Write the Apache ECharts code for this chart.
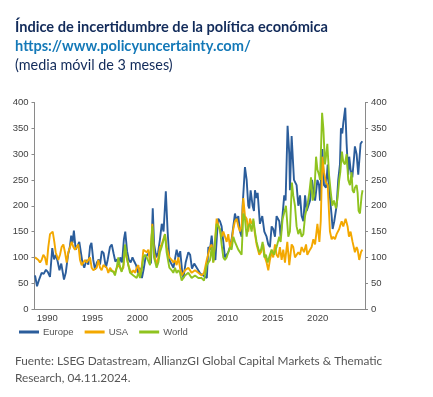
<!DOCTYPE html>
<html style="height: 100%" lang="es">
<head>
    <meta charset="utf-8">
    <script type="text/javascript" src="https://cdn.jsdelivr.net/npm/echarts@6/dist/echarts.min.js"></script>
</head>
<body style="height: 100%; margin: 0; background: #fff">
<div id="container" style="width: 433px; height: 397px"></div>
<script type="text/javascript">
    // series: [decimal year, index value], 3-month moving average
    var europe = [
        [1988.64, 65], [1988.86, 44], [1989.05, 55], [1989.37, 70], [1989.6, 68], [1989.85, 76],
        [1990.05, 72], [1990.3, 62], [1990.55, 118], [1990.75, 96], [1990.95, 105], [1991.15, 92],
        [1991.35, 75], [1991.55, 88], [1991.85, 57], [1992.05, 70], [1992.3, 105], [1992.5, 120],
        [1992.65, 142], [1992.8, 128], [1992.95, 152], [1993.15, 115], [1993.35, 112], [1993.55, 130],
        [1993.7, 128], [1993.9, 90], [1994.1, 80], [1994.35, 95], [1994.55, 86], [1994.75, 122],
        [1994.9, 128], [1995.1, 95], [1995.3, 76], [1995.5, 90], [1995.7, 96], [1995.85, 86],
        [1996.05, 112], [1996.25, 108], [1996.5, 80], [1996.7, 95], [1996.95, 120], [1997.15, 125],
        [1997.35, 108], [1997.55, 92], [1997.75, 96], [1997.95, 86], [1998.1, 100], [1998.3, 90],
        [1998.5, 135], [1998.65, 150], [1998.85, 112], [1999.05, 95], [1999.25, 90], [1999.45, 100],
        [1999.65, 92], [1999.85, 85], [2000.05, 70], [2000.25, 80], [2000.5, 60], [2000.7, 78],
        [2000.9, 100], [2001.1, 105], [2001.3, 110], [2001.5, 88], [2001.7, 195], [2001.85, 125],
        [2002.1, 100], [2002.3, 110], [2002.5, 135], [2002.7, 165], [2002.9, 150], [2003.15, 228],
        [2003.35, 150], [2003.55, 95], [2003.75, 88], [2004.0, 80], [2004.2, 78], [2004.35, 115],
        [2004.55, 100], [2004.75, 112], [2004.95, 75], [2005.1, 60], [2005.35, 90], [2005.65, 110],
        [2005.85, 105], [2006.05, 78], [2006.3, 88], [2006.5, 85], [2006.75, 75], [2007.0, 68],
        [2007.3, 65], [2007.5, 62], [2007.7, 60], [2007.87, 120], [2008.05, 115], [2008.24, 142],
        [2008.45, 100], [2008.65, 95], [2008.85, 150], [2008.97, 175], [2009.16, 170], [2009.34, 160],
        [2009.53, 130], [2009.71, 100], [2010.08, 110], [2010.27, 120], [2010.45, 135], [2010.64, 160],
        [2010.82, 185], [2011.01, 170], [2011.19, 180], [2011.38, 150], [2011.56, 140], [2011.67, 200],
        [2011.93, 275], [2012.12, 250], [2012.3, 200], [2012.41, 195], [2012.56, 230], [2012.78, 200],
        [2012.93, 190], [2013.04, 230], [2013.22, 215], [2013.34, 225], [2013.59, 165], [2013.85, 180],
        [2014.08, 150], [2014.33, 140], [2014.52, 125], [2014.7, 120], [2014.89, 160], [2015.07, 155],
        [2015.26, 140], [2015.44, 180], [2015.74, 170], [2015.89, 140], [2016.29, 220], [2016.44, 210],
        [2016.66, 355], [2016.85, 300], [2016.92, 230], [2017.11, 335], [2017.37, 250], [2017.66, 240],
        [2017.85, 200], [2018.04, 220], [2018.22, 180], [2018.41, 170], [2018.6, 220], [2018.78, 190],
        [2019.15, 210], [2019.37, 250], [2019.52, 230], [2019.71, 210], [2019.97, 250], [2020.15, 240],
        [2020.26, 210], [2020.52, 310], [2020.7, 240], [2020.92, 235], [2021.11, 280], [2021.29, 230],
        [2021.55, 180], [2021.66, 155], [2021.84, 170], [2022.1, 200], [2022.28, 250], [2022.47, 280],
        [2022.58, 350], [2022.73, 340], [2022.84, 360], [2023.06, 390], [2023.21, 320], [2023.39, 260],
        [2023.5, 295], [2023.65, 270], [2023.84, 255], [2024.02, 290], [2024.13, 315], [2024.32, 300],
        [2024.5, 260], [2024.76, 320], [2024.95, 325]
    ];
    var usa = [
        [1988.64, 100], [1989.01, 95], [1989.19, 90], [1989.37, 95], [1989.56, 105], [1989.74, 100],
        [1989.93, 85], [1990.11, 120], [1990.3, 145], [1990.6, 150], [1990.78, 130], [1990.93, 110],
        [1991.22, 95], [1991.41, 105], [1991.59, 120], [1991.78, 125], [1991.96, 110], [1992.15, 90],
        [1992.33, 110], [1992.52, 120], [1992.7, 130], [1992.89, 120], [1993.07, 115], [1993.26, 120],
        [1993.44, 125], [1993.63, 95], [1993.81, 85], [1994.18, 95], [1994.37, 90], [1994.74, 100],
        [1994.92, 80], [1995.11, 75], [1995.48, 80], [1995.66, 95], [1995.85, 80], [1996.03, 75],
        [1996.22, 85], [1996.59, 80], [1996.77, 70], [1996.96, 80], [1997.14, 75], [1997.51, 70],
        [1997.7, 80], [1997.99, 85], [1998.25, 75], [1998.44, 80], [1998.62, 115], [1998.81, 100],
        [1998.99, 85], [1999.18, 75], [1999.36, 70], [1999.55, 75], [1999.73, 70], [1999.92, 80],
        [2000.1, 85], [2000.29, 65], [2000.47, 80], [2000.66, 115], [2001.03, 110], [2001.21, 115],
        [2001.4, 90], [2001.65, 165], [2001.84, 110], [2002.13, 85], [2002.32, 100], [2002.5, 120],
        [2002.69, 125], [2003.06, 145], [2003.24, 120], [2003.54, 100], [2003.8, 95], [2003.98, 90],
        [2004.17, 95], [2004.35, 85], [2004.54, 100], [2004.72, 80], [2004.91, 65], [2005.28, 75],
        [2005.65, 80], [2006.02, 70], [2006.39, 75], [2006.76, 70], [2007.13, 65], [2007.39, 70],
        [2007.69, 95], [2008.06, 120], [2008.24, 125], [2008.42, 90], [2008.79, 175], [2008.97, 175],
        [2009.34, 140], [2009.53, 150], [2009.9, 130], [2010.08, 145], [2010.27, 120], [2010.45, 130],
        [2010.64, 155], [2010.82, 170], [2011.01, 175], [2011.19, 160], [2011.38, 150], [2011.56, 160],
        [2011.75, 215], [2011.93, 180], [2012.12, 175], [2012.3, 150], [2012.49, 175], [2012.67, 165],
        [2012.86, 170], [2013.04, 145], [2013.22, 125], [2013.52, 105], [2013.71, 110], [2013.96, 125],
        [2014.15, 100], [2014.33, 90], [2014.52, 75], [2014.7, 95], [2014.89, 110], [2015.07, 100],
        [2015.26, 125], [2015.44, 105], [2015.63, 100], [2015.81, 120], [2016.0, 95], [2016.18, 115],
        [2016.37, 90], [2016.63, 130], [2016.85, 85], [2017.11, 125], [2017.29, 120], [2017.48, 100],
        [2017.66, 100], [2017.85, 110], [2018.04, 105], [2018.22, 120], [2018.48, 110], [2018.71, 125],
        [2018.85, 105], [2019.15, 115], [2019.33, 120], [2019.52, 135], [2019.71, 125], [2019.97, 165],
        [2020.19, 130], [2020.34, 170], [2020.52, 295], [2020.7, 265], [2020.92, 245], [2021.11, 240],
        [2021.36, 150], [2021.55, 135], [2021.73, 140], [2021.92, 135], [2022.1, 145], [2022.39, 155],
        [2022.47, 160], [2022.66, 170], [2022.84, 160], [2023.1, 175], [2023.21, 175], [2023.32, 160],
        [2023.47, 140], [2023.65, 150], [2023.76, 140], [2023.87, 130], [2024.13, 110], [2024.32, 120],
        [2024.43, 115], [2024.61, 95], [2024.8, 110], [2024.95, 115]
    ];
    var world = [
        [1996.96, 75], [1997.33, 72], [1997.51, 65], [1997.7, 80], [1997.88, 100], [1998.07, 80],
        [1998.25, 72], [1998.44, 85], [1998.62, 125], [1998.81, 100], [1998.99, 85], [1999.18, 70],
        [1999.36, 68], [1999.55, 65], [1999.73, 65], [1999.92, 60], [2000.1, 70], [2000.29, 60],
        [2000.47, 75], [2000.66, 100], [2000.84, 105], [2001.03, 100], [2001.4, 85], [2001.65, 160],
        [2001.84, 100], [2002.13, 80], [2002.32, 90], [2002.5, 110], [2002.69, 120], [2003.06, 145],
        [2003.24, 110], [2003.54, 80], [2003.8, 75], [2003.98, 70], [2004.17, 80], [2004.35, 70],
        [2004.54, 75], [2004.72, 70], [2004.91, 55], [2005.28, 65], [2005.65, 70], [2006.02, 60],
        [2006.39, 65], [2006.76, 60], [2007.13, 60], [2007.39, 55], [2007.69, 85], [2008.06, 95],
        [2008.24, 120], [2008.42, 90], [2008.79, 165], [2008.97, 165], [2009.16, 155], [2009.34, 125],
        [2009.53, 100], [2009.71, 95], [2009.9, 100], [2010.08, 110], [2010.27, 120], [2010.45, 115],
        [2010.64, 140], [2010.82, 130], [2011.01, 130], [2011.19, 115], [2011.38, 115], [2011.56, 105],
        [2011.75, 185], [2011.93, 175], [2012.12, 140], [2012.3, 160], [2012.49, 165], [2012.67, 150],
        [2012.86, 175], [2013.04, 150], [2013.22, 130], [2013.52, 110], [2013.71, 115], [2013.89, 130],
        [2014.08, 100], [2014.26, 105], [2014.45, 90], [2014.7, 105], [2014.89, 115], [2015.15, 105],
        [2015.44, 120], [2015.74, 140], [2015.89, 130], [2016.11, 175], [2016.26, 185], [2016.48, 200],
        [2016.74, 140], [2016.92, 150], [2017.14, 245], [2017.29, 220], [2017.48, 200], [2017.66, 160],
        [2017.85, 145], [2018.04, 155], [2018.22, 140], [2018.41, 145], [2018.6, 180], [2018.85, 200],
        [2019.07, 225], [2019.26, 255], [2019.44, 210], [2019.62, 220], [2019.82, 295], [2019.97, 270],
        [2020.15, 260], [2020.26, 250], [2020.49, 380], [2020.63, 350], [2020.81, 280], [2020.92, 295],
        [2021.07, 320], [2021.26, 260], [2021.43, 230], [2021.62, 200], [2021.81, 210], [2022.03, 195],
        [2022.21, 215], [2022.39, 250], [2022.51, 265], [2022.69, 305], [2022.84, 285], [2023.02, 280],
        [2023.21, 300], [2023.39, 250], [2023.58, 240], [2023.76, 265], [2023.87, 230], [2024.02, 225],
        [2024.13, 235], [2024.32, 240], [2024.43, 225], [2024.54, 190], [2024.69, 185], [2024.88, 220],
        [2024.98, 230]
    ];
    var yearLabels = [1990, 1995, 2000, 2005, 2010, 2015, 2020];
    var seriesNames = ['Europe', 'USA', 'World'];
    var seriesColors = ['#2b5d9b', '#f3a800', '#8fc31f'];

    var dom = document.getElementById("container");
    var myChart = echarts.init(dom, null, {renderer: 'canvas'});

    var yAxisBase = {
        type: 'value',
        min: 0,
        max: 400,
        interval: 50,
        splitLine: {show: false},
        axisLine: {show: true, lineStyle: {color: '#8a8a8a', width: 1}},
        axisTick: {show: true, length: 3, lineStyle: {color: '#8a8a8a'}},
        axisLabel: {color: '#404040', fontSize: 9.5, fontFamily: 'Liberation Sans', margin: 6}
    };

    var option = {
        animation: false,
        title: [
            {
                text: 'Índice de incertidumbre de la política económica',
                left: 10, top: 15,
                textStyle: {fontFamily: 'Lato', fontWeight: 'bold', fontSize: 14.6, color: '#122b5a'}
            },
            {
                text: 'https://www.policyuncertainty.com/',
                left: 10, top: 34,
                textStyle: {fontFamily: 'Lato', fontWeight: 'bold', fontSize: 14.6, color: '#1479b8'}
            },
            {
                text: '(media móvil de 3 meses)',
                left: 10, top: 53,
                textStyle: {fontFamily: 'Lato', fontWeight: 'normal', fontSize: 14.4, color: '#122b5a'}
            },
            {
                text: 'Fuente: LSEG Datastream, AllianzGI Global Capital Markets & Thematic\nResearch, 04.11.2024.',
                left: 10, top: 348,
                textStyle: {fontFamily: 'Lato', fontWeight: 'normal', fontSize: 11.8, lineHeight: 17, color: '#555555'}
            }
        ],
        legend: {
            left: 14, top: 322,
            icon: 'rect',
            itemWidth: 20, itemHeight: 3,
            itemGap: 11,
            textStyle: {fontFamily: 'Liberation Sans', fontSize: 9.5, color: '#555555', padding: [0, 0, 0, -1]},
            data: seriesNames
        },
        grid: {left: 34.5, right: 68, top: 102.5, bottom: 88, containLabel: false},
        xAxis: {
            type: 'value',
            min: 1988.58,
            max: 2025.25,
            splitLine: {show: false},
            axisLine: {show: true, onZero: false, lineStyle: {color: '#8a8a8a', width: 1}},
            axisTick: {show: false},
            axisLabel: {
                customValues: yearLabels,
                color: '#404040', fontSize: 9.5, fontFamily: 'Liberation Sans', margin: 4,
                formatter: function (v) { return String(Math.round(v)); }
            }
        },
        yAxis: [
            Object.assign({}, yAxisBase, {position: 'left'}),
            Object.assign({}, yAxisBase, {position: 'right'})
        ],
        series: [europe, usa, world].map(function (d, i) {
            return {
                name: seriesNames[i],
                type: 'line',
                data: d,
                showSymbol: false,
                symbol: 'none',
                color: seriesColors[i],
                lineStyle: {width: 1.9, color: seriesColors[i]}
            };
        })
    };

    myChart.setOption(option);
</script>
</body>
</html>
